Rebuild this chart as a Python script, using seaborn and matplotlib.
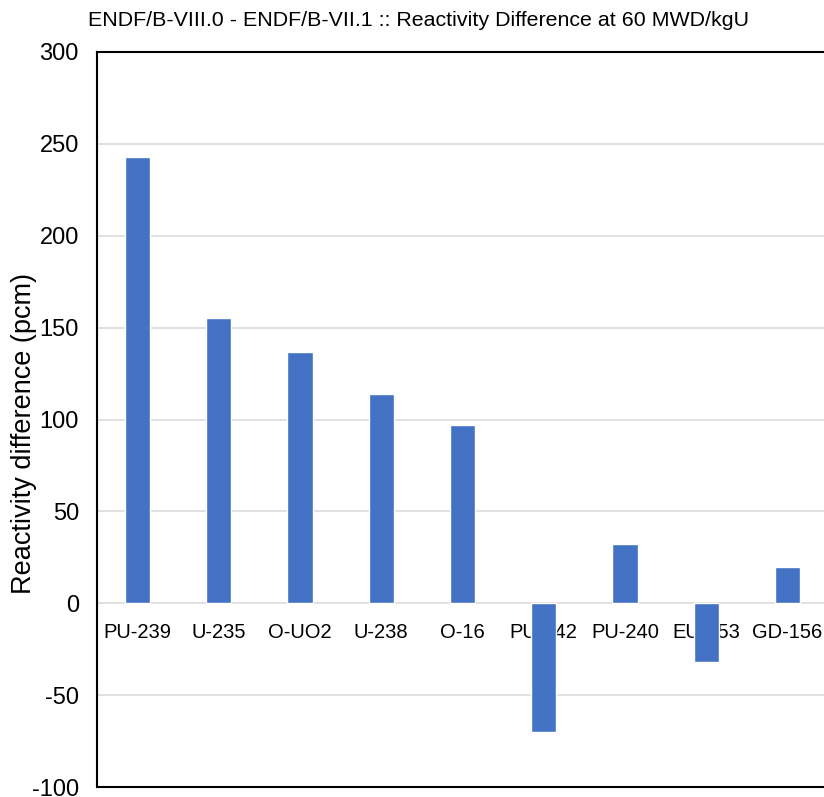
import pandas as pd
import matplotlib
matplotlib.use("Agg")
import matplotlib.pyplot as plt
import seaborn as sns

# nuclide contributions
nuclides = ["PU-239", "U-235", "O-UO2", "U-238", "O-16",
            "PU-242", "PU-240", "EU-153", "GD-156"]
diff_pcm = [243, 155, 137, 114, 97, -70, 32, -32, 20]
y_ticks = [-100, -50, 0, 50, 100, 150, 200, 250, 300]

title = "ENDF/B-VIII.0 - ENDF/B-VII.1 :: Reactivity Difference at 60 MWD/kgU"
y_label = "Reactivity difference (pcm)"

sns.set_theme(style="white")
plt.rcParams["font.family"] = ["Liberation Sans", "DejaVu Sans"]
plt.rcParams["axes.unicode_minus"] = False
plt.rcParams["text.color"] = "black"
plt.rcParams["xtick.color"] = "black"
plt.rcParams["ytick.color"] = "black"
plt.rcParams["axes.labelcolor"] = "black"

df = pd.DataFrame({"nuclide": nuclides, "diff": diff_pcm})

W, H = 824, 797
fig = plt.figure(figsize=(W / 100, H / 100), dpi=100)
ax = fig.add_axes([97 / W, 1 - 787 / H, (828 - 97) / W, (787 - 52) / H])

sns.barplot(data=df, x="nuclide", y="diff", color="#4472C4", width=0.31,
            saturation=1, ax=ax)

ax.set_ylim(-100, 300)
ax.set_xlim(-0.5, len(nuclides) - 0.5)
ax.set_yticks(y_ticks)
ax.yaxis.grid(True, color="#d9d9d9", linewidth=1.1)
ax.set_axisbelow(True)
ax.tick_params(axis="y", length=0, pad=13, labelsize=17)

# category labels sit just under the zero line
ax.set_xticks([])
ax.set_xlabel("")
sec = ax.secondary_xaxis(0, transform=ax.transData)
sec.set_xticks(range(len(nuclides)), nuclides)
sec.tick_params(length=0, pad=14, labelsize=14.5)
sec.spines["bottom"].set_visible(False)

for side in ["top", "left", "bottom"]:
    ax.spines[side].set_visible(True)
    ax.spines[side].set_color("black")
    ax.spines[side].set_linewidth(1.5)
ax.spines["right"].set_visible(False)

ax.set_ylabel(y_label, fontsize=19.5)
ax.yaxis.label.set_va("center")
ax.yaxis.set_label_coords((24 - 97) / 731, (787 - 433) / 735)
fig.text(418 / W, 1 - 20 / H, title, ha="center", va="center", fontsize=15.4)

fig.savefig("out.png", dpi=100)
